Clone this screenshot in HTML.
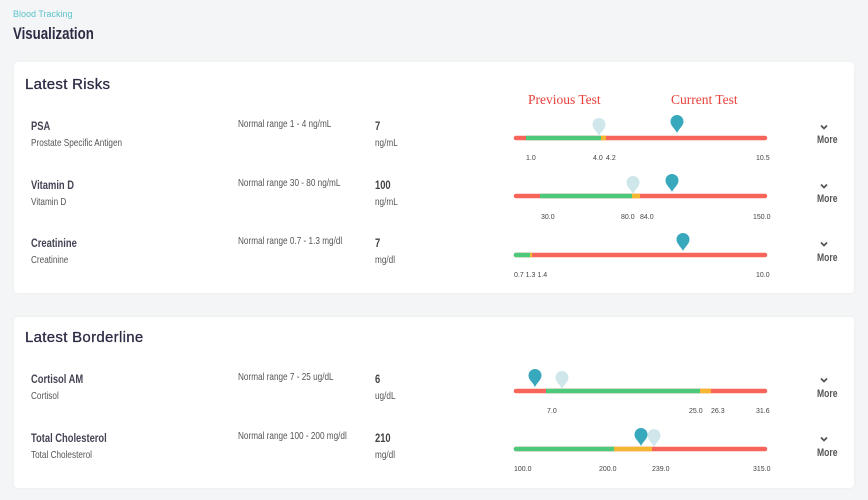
<!DOCTYPE html><html><head><style>
body{margin:0;width:868px;height:500px;background:#f4f5f6;font-family:"Liberation Sans",sans-serif;position:relative;overflow:hidden}
.a{position:absolute;white-space:nowrap}
.n{transform:scaleX(.78);transform-origin:left top}
.card{position:absolute;left:14px;width:840px;background:#fff;border-radius:4px;box-shadow:0 0 3px rgba(0,0,0,.04)}
.h{font-size:15px;color:#2d2c45;letter-spacing:.3px;-webkit-text-stroke:.3px #2d2c45}
.nm{font-size:12px;font-weight:bold;color:#444455}
.sb{font-size:10.5px;color:#555}
.rg{font-size:10.5px;color:#555}
.v{font-size:12px;font-weight:bold;color:#444}
.mo{font-size:11px;font-weight:bold;color:#555}
</style></head><body>
<div class="a" style="left:13px;top:9px;font-size:9px;color:#5bc4cc">Blood Tracking</div>
<div class="a n" style="left:13px;top:24px;font-size:17px;font-weight:bold;color:#2d2c45">Visualization</div>
<div class="card" style="top:62px;height:231px"></div>
<div class="card" style="top:317px;height:171px"></div>
<div class="a h" style="left:25px;top:76px">Latest Risks</div>
<div class="a h" style="left:25px;top:329px">Latest Borderline</div>

<div class="a n nm" style="left:31px;top:119px">PSA</div><div class="a n sb" style="left:31px;top:137px">Prostate Specific Antigen</div>
<div class="a n rg" style="left:238px;top:118px">Normal range 1 - 4 ng/mL</div>
<div class="a n v" style="left:375px;top:119px">7</div><div class="a n sb" style="left:375px;top:137px">ng/mL</div>

<div class="a n nm" style="left:31px;top:178px">Vitamin D</div><div class="a n sb" style="left:31px;top:196px">Vitamin D</div>
<div class="a n rg" style="left:238px;top:177px">Normal range 30 - 80 ng/mL</div>
<div class="a n v" style="left:375px;top:178px">100</div><div class="a n sb" style="left:375px;top:196px">ng/mL</div>

<div class="a n nm" style="left:31px;top:236px">Creatinine</div><div class="a n sb" style="left:31px;top:254px">Creatinine</div>
<div class="a n rg" style="left:238px;top:235px">Normal range 0.7 - 1.3 mg/dl</div>
<div class="a n v" style="left:375px;top:236px">7</div><div class="a n sb" style="left:375px;top:254px">mg/dl</div>

<div class="a n nm" style="left:31px;top:372px">Cortisol AM</div><div class="a n sb" style="left:31px;top:390px">Cortisol</div>
<div class="a n rg" style="left:238px;top:371px">Normal range 7 - 25 ug/dL</div>
<div class="a n v" style="left:375px;top:372px">6</div><div class="a n sb" style="left:375px;top:390px">ug/dL</div>

<div class="a n nm" style="left:31px;top:431px">Total Cholesterol</div><div class="a n sb" style="left:31px;top:449px">Total Cholesterol</div>
<div class="a n rg" style="left:238px;top:430px">Normal range 100 - 200 mg/dl</div>
<div class="a n v" style="left:375px;top:431px">210</div><div class="a n sb" style="left:375px;top:449px">mg/dl</div>

<div class="a mo n" style="left:817px;top:134px">More</div>
<div class="a mo n" style="left:817px;top:193px">More</div>
<div class="a mo n" style="left:817px;top:252px">More</div>
<div class="a mo n" style="left:817px;top:388px">More</div>
<div class="a mo n" style="left:817px;top:447px">More</div>

<svg class="a" style="left:0;top:0" width="868" height="500">
<defs><path id="m" d="M0,18 C-2,13.5 -6.5,11 -6.5,6.5 A6.5,6.5 0 1,1 6.5,6.5 C6.5,11 2,13.5 0,18Z"/>
<path id="c" d="M-3,-1.5 L0,1.5 L3,-1.5" fill="none" stroke="#555" stroke-width="1.8"/></defs>
<g font-family="Liberation Serif,serif" font-size="13.5" fill="#e8413b"><text x="528" y="104">Previous Test</text><text x="671" y="104">Current Test</text></g>
<use href="#c" x="824" y="127"/><use href="#c" x="824" y="186"/><use href="#c" x="824" y="244"/><use href="#c" x="824" y="380"/><use href="#c" x="824" y="439"/>
<g stroke-width="4.5" stroke-linecap="round">
<line x1="516" y1="138" x2="765" y2="138" stroke="#f7645a"/>
<line x1="526" y1="138" x2="601" y2="138" stroke="#4cc97a" stroke-linecap="butt"/>
<line x1="601" y1="138" x2="606" y2="138" stroke="#f5b731" stroke-linecap="butt"/>
<line x1="516" y1="196" x2="765" y2="196" stroke="#f7645a"/>
<line x1="540" y1="196" x2="632" y2="196" stroke="#4cc97a" stroke-linecap="butt"/>
<line x1="632" y1="196" x2="640" y2="196" stroke="#f5b731" stroke-linecap="butt"/>
<line x1="516" y1="255" x2="765" y2="255" stroke="#f7645a"/>
<line x1="516" y1="255" x2="530" y2="255" stroke="#4cc97a"/>
<line x1="530" y1="255" x2="532" y2="255" stroke="#f5b731" stroke-linecap="butt"/>
<line x1="516" y1="391" x2="765" y2="391" stroke="#f7645a"/>
<line x1="546" y1="391" x2="700" y2="391" stroke="#4cc97a" stroke-linecap="butt"/>
<line x1="700" y1="391" x2="711" y2="391" stroke="#f5b731" stroke-linecap="butt"/>
<line x1="516" y1="449" x2="765" y2="449" stroke="#f7645a"/>
<line x1="516" y1="449" x2="614" y2="449" stroke="#4cc97a"/>
<line x1="614" y1="449" x2="652" y2="449" stroke="#f5b731" stroke-linecap="butt"/>
</g>
<g fill="#cfe7eb">
<use href="#m" x="599" y="118"/><use href="#m" x="633" y="176"/><use href="#m" x="562" y="371"/><use href="#m" x="654" y="429"/>
</g>
<g fill="#38a8bd">
<use href="#m" x="677" y="115"/><use href="#m" x="672" y="174"/><use href="#m" x="683" y="233"/><use href="#m" x="535" y="369"/><use href="#m" x="641" y="428"/>
</g>
<g font-size="7" fill="#444" font-family="Liberation Sans Narrow,Liberation Sans,sans-serif">
<text x="526" y="160">1.0</text><text x="593" y="160">4.0</text><text x="606" y="160">4.2</text><text x="756" y="160">10.5</text>
<text x="541" y="219">30.0</text><text x="621" y="219">80.0</text><text x="640" y="219">84.0</text><text x="753" y="219">150.0</text>
<text x="514" y="277">0.7 1.3  1.4</text><text x="756" y="277">10.0</text>
<text x="547" y="413">7.0</text><text x="689" y="413">25.0</text><text x="711" y="413">26.3</text><text x="756" y="413">31.6</text>
<text x="514" y="471">100.0</text><text x="599" y="471">200.0</text><text x="652" y="471">239.0</text><text x="753" y="471">315.0</text>
</g>
</svg>
</body></html>
